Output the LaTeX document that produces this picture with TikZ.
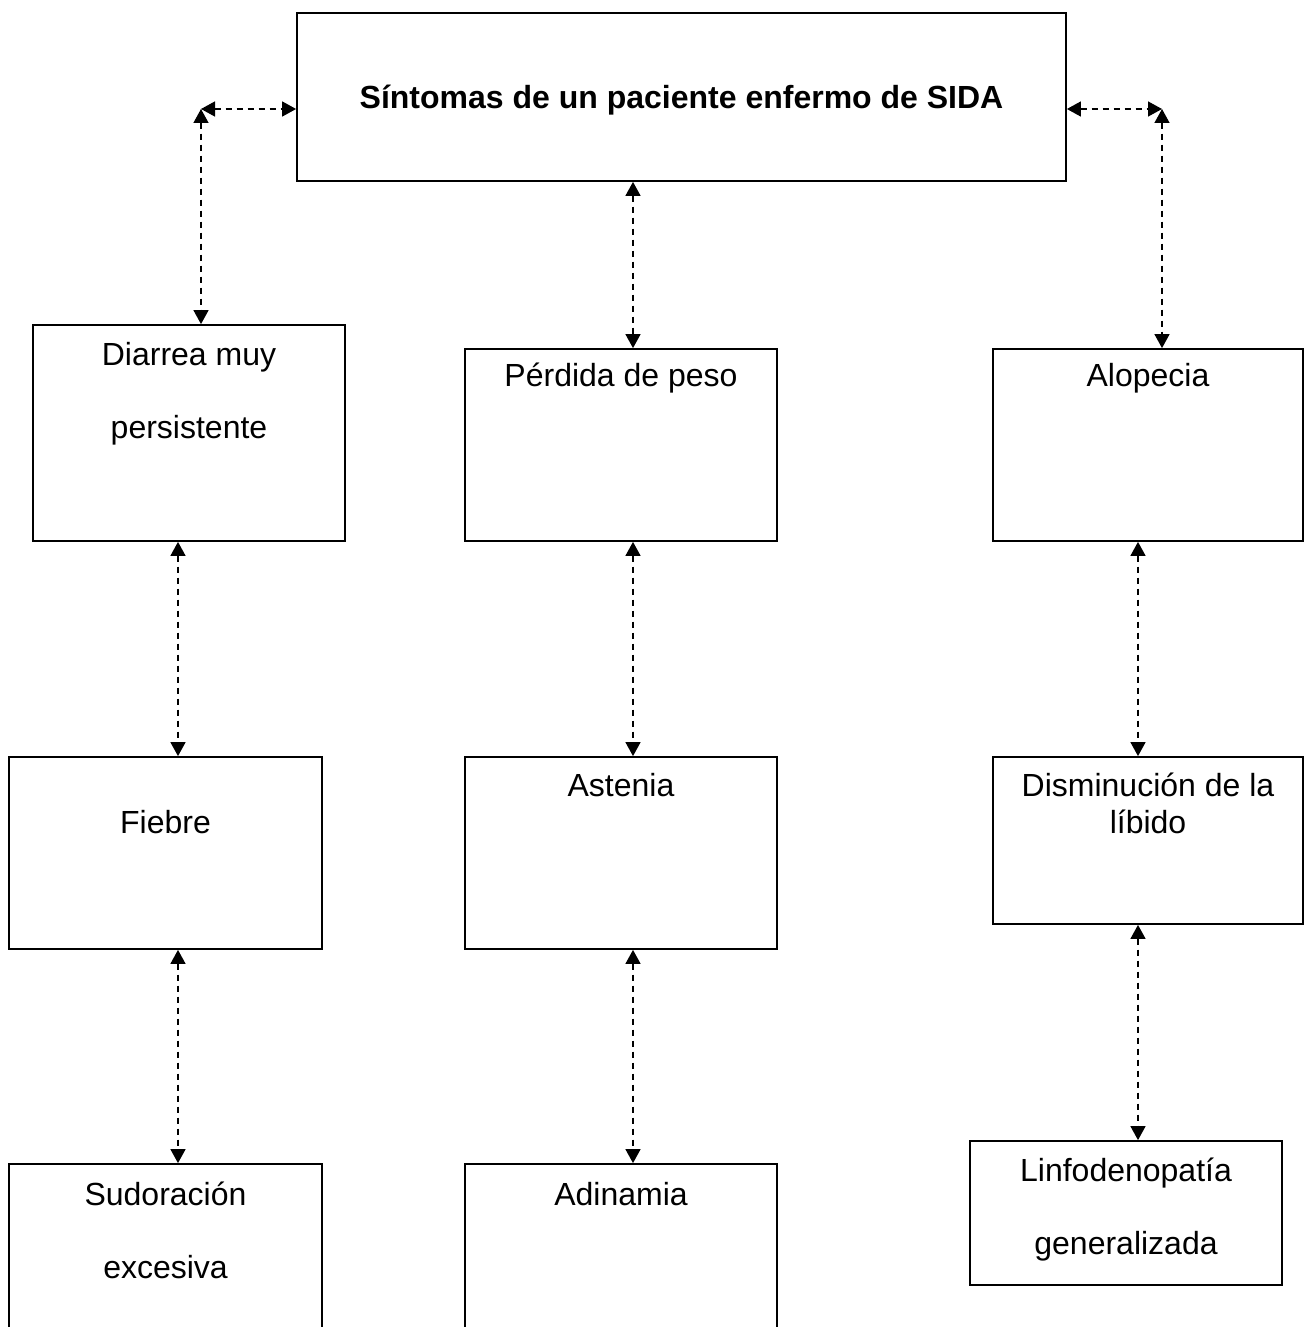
\documentclass[tikz,border=0pt]{standalone}
\usepackage{fontspec}
\setmainfont{Liberation Sans}
\usetikzlibrary{arrows.meta}

\tikzset{
  box/.style={draw=black, line width=1.8pt, fill=none, inner sep=0pt, shape=rectangle},
  txt/.style={anchor=base, inner sep=0pt, font=\fontsize{32pt}{38pt}\selectfont},
  ttl/.style={txt, font=\fontsize{32pt}{38pt}\selectfont\bfseries},
  link/.style={line width=1.4pt, dash pattern=on 6pt off 5pt,
    {Triangle[length=14pt,width=15pt]}-{Triangle[length=14pt,width=15pt]}}
}

\begin{document}
\begin{tikzpicture}[x=1pt, y=-1pt]
  % page frame
  \clip (0,0) rectangle (1306,1327);

  % boxes
  \node[box, minimum width=769pt, minimum height=168pt] (top) at (681.5,97) {};
  \node[box, minimum width=312pt, minimum height=216pt] (diarrea) at (189,433) {};
  \node[box, minimum width=312pt, minimum height=192pt] (perdida) at (621,445) {};
  \node[box, minimum width=310pt, minimum height=192pt] (alopecia) at (1148,445) {};
  \node[box, minimum width=313pt, minimum height=192pt] (fiebre) at (165.5,853) {};
  \node[box, minimum width=312pt, minimum height=192pt] (astenia) at (621,853) {};
  \node[box, minimum width=310pt, minimum height=167pt] (disminucion) at (1148,840.5) {};
  \node[box, minimum width=313pt, minimum height=200pt] (sudoracion) at (165.5,1264) {};
  \node[box, minimum width=312pt, minimum height=200pt] (adinamia) at (621,1264) {};
  \node[box, minimum width=312pt, minimum height=144pt] (linfo) at (1126,1213) {};

  % labels
  \node[ttl] (tTop) at (681.5,109) {Síntomas de un paciente enfermo de SIDA};
  \node[txt] (tDiarreaA) at (189,365) {Diarrea muy};
  \node[txt] (tDiarreaB) at (189,438) {persistente};
  \node[txt] (tPerdida) at (621,386) {Pérdida de peso};
  \node[txt] (tAlopecia) at (1148,386) {Alopecia};
  \node[txt] (tFiebre) at (165.5,833) {Fiebre};
  \node[txt] (tAstenia) at (621,796) {Astenia};
  \node[txt] (tDismA) at (1148,796) {Disminución de la};
  \node[txt] (tDismB) at (1148,833) {líbido};
  \node[txt] (tSudA) at (165.5,1205) {Sudoración};
  \node[txt] (tSudB) at (165.5,1278) {excesiva};
  \node[txt] (tAdinamia) at (621,1205) {Adinamia};
  \node[txt] (tLinfA) at (1126,1181) {Linfodenopatía};
  \node[txt] (tLinfB) at (1126,1254) {generalizada};

  % connector corners and columns
  \coordinate (cL) at (201,109);
  \coordinate (cR) at (1162,109);
  \coordinate (cM) at (633,0);
  \coordinate (cA) at (178,0);
  \coordinate (cC) at (1138,0);

  % connectors
  \draw[link] (cL) -- (top.west |- cL);
  \draw[link] (cL) -- (diarrea.north -| cL);
  \draw[link] (top.east |- cR) -- (cR);
  \draw[link] (cR) -- (alopecia.north -| cR);

  \draw[link] (top.south -| cM) -- (perdida.north -| cM);
  \draw[link] (perdida.south -| cM) -- (astenia.north -| cM);
  \draw[link] (astenia.south -| cM) -- (adinamia.north -| cM);

  \draw[link] (diarrea.south -| cA) -- (fiebre.north -| cA);
  \draw[link] (fiebre.south -| cA) -- (sudoracion.north -| cA);

  \draw[link] (alopecia.south -| cC) -- (disminucion.north -| cC);
  \draw[link] (disminucion.south -| cC) -- (linfo.north -| cC);
\end{tikzpicture}
\end{document}
